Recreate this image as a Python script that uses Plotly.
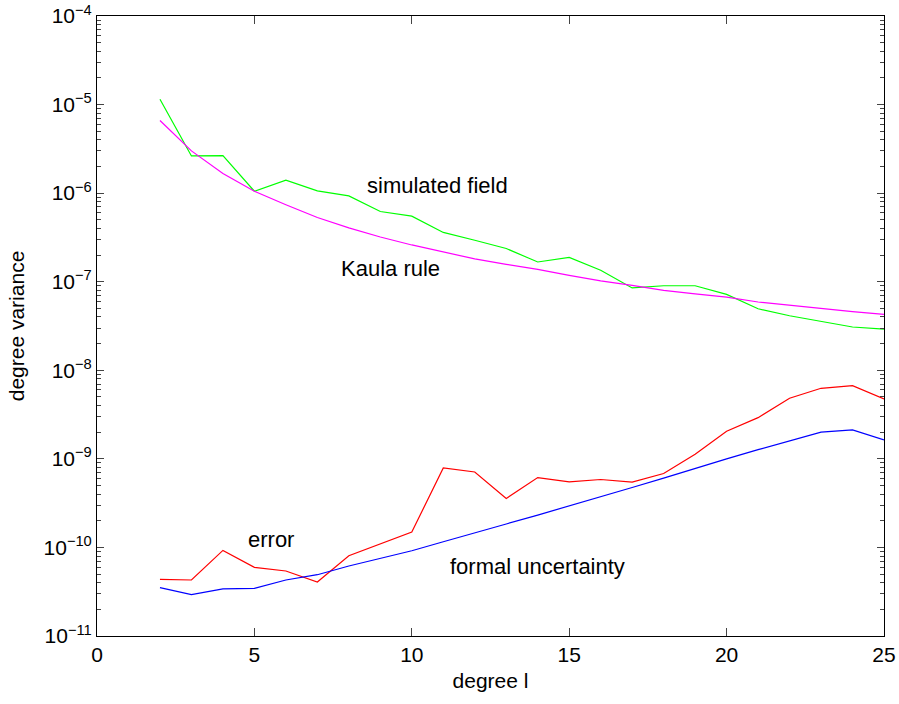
import math
import plotly.graph_objects as go

degree = list(range(2, 26))
simulated_field = [1.15e-5, 2.63e-6, 2.65e-6, 1.05e-6, 1.40e-6, 1.06e-6, 9.3e-7, 6.2e-7, 5.5e-7,
                   3.6e-7, 2.94e-7, 2.37e-7, 1.67e-7, 1.88e-7, 1.35e-7, 8.5e-8, 9.0e-8, 9.0e-8,
                   7.2e-8, 4.95e-8, 4.13e-8, 3.57e-8, 3.08e-8, 2.92e-8]
kaula_rule = [6.6e-6, 3.0e-6, 1.67e-6, 1.05e-6, 7.4e-7, 5.3e-7, 4.05e-7, 3.2e-7, 2.6e-7,
              2.16e-7, 1.81e-7, 1.57e-7, 1.38e-7, 1.18e-7, 1.02e-7, 9.1e-8, 8.0e-8, 7.3e-8,
              6.7e-8, 5.9e-8, 5.4e-8, 5.0e-8, 4.6e-8, 4.28e-8]
error = [4.36e-11, 4.29e-11, 9.25e-11, 5.95e-11, 5.42e-11, 4.07e-11, 8.05e-11, 1.09e-10, 1.49e-10,
         7.9e-10, 7.1e-10, 3.57e-10, 6.15e-10, 5.5e-10, 5.85e-10, 5.47e-10, 6.83e-10, 1.13e-9,
         2.05e-9, 2.92e-9, 4.83e-9, 6.26e-9, 6.7e-9, 4.74e-9]
formal_uncertainty = [3.52e-11, 2.93e-11, 3.40e-11, 3.45e-11, 4.29e-11, 4.92e-11, 6.17e-11, 7.46e-11,
                      9.18e-11, 1.16e-10, 1.45e-10, 1.84e-10, 2.32e-10, 2.93e-10, 3.73e-10, 4.75e-10,
                      6.05e-10, 7.85e-10, 1.0e-9, 1.27e-9, 1.6e-9, 2.0e-9, 2.12e-9, 1.64e-9]

labels = ["simulated field", "Kaula rule", "error", "formal uncertainty"]
label_x = [10.81, 9.33, 5.52, 14.0]
label_y = [1.23e-6, 1.41e-7, 1.22e-10, 6.07e-11]

x_ticks = [0, 5, 10, 15, 20, 25]
y_exponents = [-11, -10, -9, -8, -7, -6, -5, -4]
y_ticks = [10.0 ** e for e in y_exponents]
y_ticktext = ["10<sup>%d</sup>" % e for e in y_exponents]
y_ticktext = [t.replace("-", "\u2212") for t in y_ticktext]

font = "Liberation Sans, Arial, sans-serif"

fig = go.Figure()
for ys, col in [(simulated_field, "#00ff00"), (kaula_rule, "#ff00ff"),
                (error, "#ff0000"), (formal_uncertainty, "#0000ff")]:
    fig.add_trace(go.Scatter(x=degree, y=ys, mode="lines",
                             line=dict(color=col, width=1.2), showlegend=False))

for t, lx, ly in zip(labels, label_x, label_y):
    fig.add_annotation(x=lx, y=math.log10(ly), text=t, showarrow=False,
                       font=dict(family=font, size=22, color="black"))

fig.update_layout(
    width=899, height=704,
    margin=dict(l=97, r=15, t=16, b=68),
    paper_bgcolor="white", plot_bgcolor="white",
    font=dict(family=font, size=21, color="black"),
    showlegend=False,
)
fig.update_xaxes(range=[0, 25], tickvals=x_ticks, ticks="inside", ticklen=8,
                 showline=True, linecolor="black", linewidth=1, mirror="allticks",
                 showgrid=False, zeroline=False, automargin=False,
                 title=dict(text="degree l", standoff=8, font=dict(size=21)),
                 tickfont=dict(size=21), ticklabelstandoff=0, ticklabeloverflow="allow")
fig.update_yaxes(type="log", range=[-11, -4], tickvals=y_ticks, ticktext=y_ticktext,
                 ticks="inside", ticklen=7, showline=True, linecolor="black", linewidth=1,
                 mirror="allticks", showgrid=False, zeroline=False, automargin=False,
                 title=dict(text="degree variance", standoff=13, font=dict(size=21)),
                 tickfont=dict(size=21), ticklabeloverflow="allow",
                 minor=dict(ticks="inside", ticklen=4, dtick="D1", showgrid=False))

# remove the page's default 8px body margin so the figure fills the window exactly
fig.write_html("out.html", config={"displayModeBar": False},
               post_script="document.body.style.margin='0';document.body.style.overflow='hidden';")
